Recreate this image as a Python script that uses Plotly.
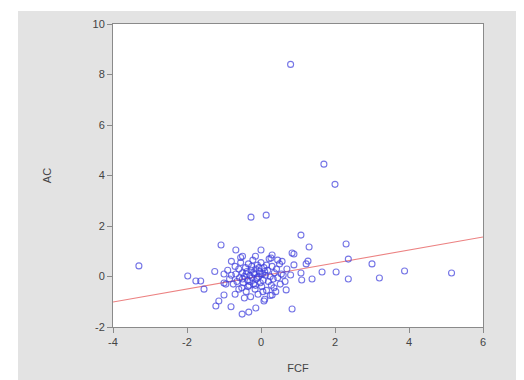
import plotly.graph_objects as go

# Scatter data (FCF vs AC)
fcf = [0.8, 1.7, 2.0, -0.27, 0.14, -3.3, 1.08, 1.3, 2.3, 0.89, -1.08, -0.68, 0.0,
       -1.98, -1.76, -1.63, -1.54, -1.25, -1.0, -1.22, -1.14, -1.0, -0.81, -0.51, -0.33,
       -0.14, 0.08, 0.3, 0.84, 0.68, 0.89, 1.08, 1.38, 1.65, 1.27, 1.22, 2.03, 2.36,
       3.0, 3.2, 2.36, 3.88, 5.15, 0.84, 0.8, 1.1, -0.5, 0.27, 0.57,
       -0.9, -0.85, -0.8, -0.75, -0.7, -0.68, -0.65, -0.6, -0.58, -0.55, -0.52, -0.5,
       -0.48, -0.45, -0.42, -0.4, -0.38, -0.36, -0.34, -0.32, -0.3, -0.28, -0.26, -0.24,
       -0.22, -0.2, -0.18, -0.16, -0.14, -0.12, -0.1, -0.08, -0.06, -0.04, -0.02, 0.0,
       0.02, 0.04, 0.06, 0.08, 0.1, 0.12, 0.15, 0.18, 0.2, 0.22, 0.25, 0.28, 0.3, 0.33,
       0.36, 0.4, 0.42, 0.45, 0.5, 0.52, 0.55, 0.6,
       -0.5, -0.4, -0.3, -0.2, -0.1, 0.0, 0.1, -0.35, -0.25, -0.15, -0.05, 0.05, 0.15,
       -0.6, -0.7, -0.45, 0.25, 0.35, -0.95, -1.0, 0.45, -0.15, 0.3, -0.55, -0.8, 0.65, 0.7]
ac = [8.4, 4.45, 3.65, 2.35, 2.43, 0.42, 1.64, 1.17, 1.29, 0.89, 1.25, 1.05, 1.05,
      0.02, -0.18, -0.18, -0.5, 0.2, -0.26, -1.17, -0.97, -0.73, -1.2, -1.49, -1.41,
      -1.25, -0.97, -0.73, -1.29, -0.53, 0.46, 0.14, -0.1, 0.18, 0.61, 0.5, 0.18, 0.69,
      0.5, -0.06, -0.1, 0.22, 0.14, 0.93, 0.06, -0.14, 0.8, 0.73, 0.6,
      0.25, -0.1, 0.05, -0.3, 0.4, 0.1, -0.2, 0.3, -0.05, 0.55, -0.45, 0.15,
      -0.25, 0.0, 0.35, -0.6, 0.2, -0.15, 0.5, -0.35, 0.05, -0.8, 0.25, -0.05,
      0.65, -0.3, 0.1, -0.5, 0.3, -0.1, 0.45, -0.7, 0.0, 0.2, -0.25, 0.55,
      -0.4, 0.1, -0.15, 0.35, -0.9, 0.05, -0.55, 0.25, -0.2, 0.7, 0.0, -0.35, 0.4, -0.1,
      0.15, -0.6, 0.3, -0.05, 0.5, -0.3, 0.1, 0.05,
      -0.1, 0.1, -0.2, 0.15, -0.05, 0.1, 0.2, -0.4, 0.4, -0.35, 0.35, -0.6, 0.45,
      -0.5, -0.7, -0.85, -0.75, -0.45, -0.3, 0.1, 0.65, 0.8, 0.85, 0.75, 0.6, -0.2, 0.3]

# Fitted regression line (intercept, slope) and x extent
fit_intercept = 0.02
fit_slope = 0.257
fit_x = [-4, 6]
fit_y = [fit_intercept + fit_slope * v for v in fit_x]

x_ticks = [-4, -2, 0, 2, 4, 6]
y_ticks = [-2, 0, 2, 4, 6, 8, 10]

fig = go.Figure()
fig.add_trace(go.Scatter(
    x=fit_x, y=fit_y, mode="lines",
    line=dict(color="rgb(236,130,130)", width=1.1),
    hoverinfo="skip", showlegend=False))
fig.add_trace(go.Scatter(
    x=fcf, y=ac, mode="markers",
    marker=dict(symbol="circle-open", size=6, color="rgba(60,60,220,0.7)",
                line=dict(width=1.1)),
    showlegend=False))

axis_common = dict(
    showgrid=False, zeroline=False, showline=True, mirror=True,
    linecolor="#8a8a8a", linewidth=1, ticks="outside", ticklen=5,
    tickcolor="#8a8a8a", tickfont=dict(family="Liberation Sans, Arial", size=11, color="#444"),
)

fig.update_layout(
    width=524, height=380,
    margin=dict(l=105, r=49, t=16, b=61, autoexpand=False),
    paper_bgcolor="#e3e3e3", plot_bgcolor="white",
    font=dict(family="Liberation Sans, Arial", size=11, color="#444"),
    xaxis=dict(range=[-4, 6], tickvals=x_ticks, ticktext=[str(v) for v in x_ticks],
               title=dict(text="FCF", standoff=17, font=dict(size=11, color="#444")),
               **axis_common),
    yaxis=dict(range=[-2, 10], tickvals=y_ticks, ticktext=[str(v) for v in y_ticks],
               title=dict(text="AC", standoff=38, font=dict(size=11, color="#444")),
               **axis_common),
    shapes=[
        dict(type="rect", xref="paper", yref="paper", x0=-105/370, x1=-95/370,
             y0=-0.3, y1=1.2, fillcolor="white", line=dict(width=0), layer="below"),
        dict(type="rect", xref="paper", yref="paper", x0=-0.4, x1=1.3,
             y0=1 + 13/303, y1=1.2, fillcolor="white", line=dict(width=0), layer="below"),
    ],
)

fig.write_html("out.html")
